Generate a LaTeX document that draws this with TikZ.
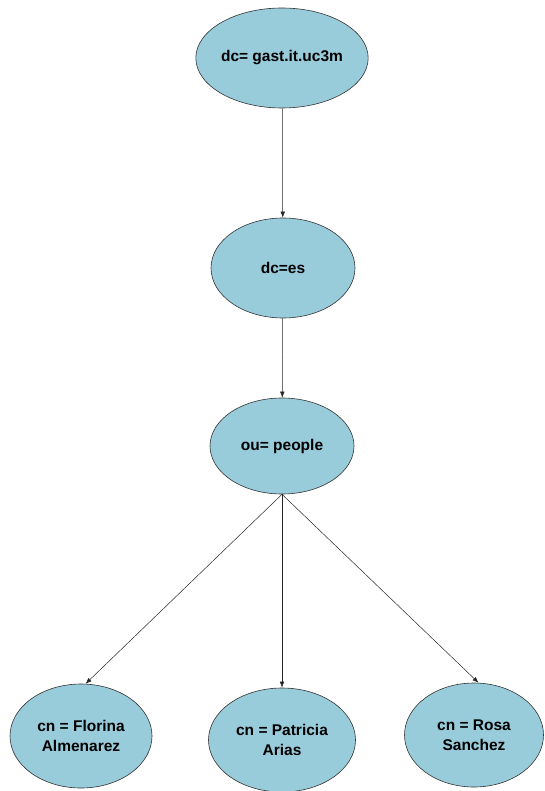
\documentclass[tikz,border=0pt]{standalone}
\usepackage{fontspec}
\setmainfont{Liberation Sans}
\usetikzlibrary{arrows.meta,shapes.geometric}
\definecolor{entry}{RGB}{153,204,219}

\begin{document}
\begin{tikzpicture}[x=1pt,y=1pt,>={Latex[length=6pt,width=4.5pt]},
  ent/.style={ellipse,fill=entry,draw=black!80,line width=0.6pt,inner sep=0pt,
    align=center,font=\bfseries\fontsize{15.5}{20}\selectfont},
  link/.style={->,draw=black!85,line width=0.5pt}]
  \useasboundingbox (0,0) rectangle (545,-791);
  % the directory tree
  \node[ent,minimum width=162pt,minimum height=100pt] (dom) at (282,-58) {dc= gast.it.uc3m};
  \node[ent,minimum width=144pt,minimum height=100pt] (es) at (283,-268) {dc=es};
  \node[ent,minimum width=144pt,minimum height=96pt] (people) at (282,-446) {ou= people};
  \node[ent,minimum width=142pt,minimum height=104pt] (florina) at (81,-736) {cn = Florina\\Almenarez};
  \node[ent,minimum width=147pt,minimum height=104pt] (patricia) at (282,-740) {cn = Patricia\\Arias};
  \node[ent,minimum width=139pt,minimum height=104pt] (rosa) at (474,-735) {cn = Rosa\\Sanchez};
  \draw[link] (dom) -- (es);
  \draw[link] (es) -- (people);
  \draw[link] (people.south) -- (florina.85);
  \draw[link] (people.south) -- (patricia.north);
  \draw[link] (people.south) -- (rosa.85);
\end{tikzpicture}
\end{document}
